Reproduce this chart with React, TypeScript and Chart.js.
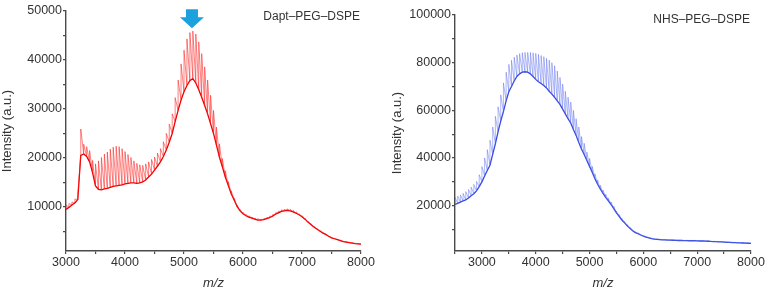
import React, { useEffect, useRef } from 'react';
import { Chart, registerables } from 'chart.js';

Chart.register(...registerables);
Chart.defaults.font.family = '"Liberation Sans", Arial, sans-serif';

// ---------- data ----------
const mzStep = 50;

// Left spectrum: Dapt-PEG-DSPE, m/z 3000..8000 every 50
const leftTitle = 'Dapt\u2013PEG\u2013DSPE';
const leftMzStart = 3000;
const leftLow = [
  9500, 9900, 10400, 10800, 11500, 20500, 20800, 20300, 19200, 17000,
  14300, 13600, 13500, 13700, 13800, 14000, 14200, 14300, 14400, 14500,
  14700, 14800, 14900, 14900, 14800, 14900, 15100, 15500, 16100, 16700,
  17500, 18300, 19200, 20300, 21600, 23200, 25000, 27400, 29700, 31800,
  33500, 34800, 35800, 36200, 35300, 33900, 32400, 30700, 29000, 27000,
  25000, 22600, 20200, 18200, 16100, 14400, 12700, 11400, 10100, 9200,
  8600, 8200, 7900, 7700, 7500, 7300, 7300, 7400, 7600, 7800,
  8100, 8500, 8800, 9100, 9200, 9300, 9200, 9000, 8700, 8400,
  8000, 7500, 6900, 6400, 5900, 5500, 5100, 4700, 4400, 4000,
  3700, 3500, 3300, 3100, 2900, 2800, 2700, 2600, 2500, 2450,
  2400,
];
const leftHigh = [
  10400, 10700, 11000, 11600, 12600, 25900, 22800, 22300, 21500, 19500,
  18800, 19400, 20100, 20800, 21200, 21800, 22200, 22400, 22300, 21900,
  21300, 20700, 20100, 19400, 18900, 18600, 18500, 18800, 19200, 19700,
  20200, 21000, 21900, 23300, 25000, 26900, 29000, 32300, 35900, 39200,
  42000, 44300, 45600, 45900, 45300, 43700, 41300, 38600, 35900, 32800,
  29700, 26300, 22900, 19900, 17400, 15200, 13300, 11800, 10400, 9500,
  8900, 8500, 8200, 7900, 7700, 7600, 7500, 7600, 7800, 8100,
  8400, 8800, 9100, 9400, 9500, 9600, 9500, 9300, 9000, 8600,
  8200, 7700, 7100, 6600, 6100, 5600, 5200, 4800, 4500, 4100,
  3800, 3600, 3400, 3200, 3000, 2900, 2800, 2700, 2600, 2500,
  2450,
];
const leftXMajor = [3000, 4000, 5000, 6000, 7000, 8000];
const leftXMinor = [3500, 4500, 5500, 6500, 7500];
const leftYMajor = [10000, 20000, 30000, 40000, 50000];
const leftYMinor = [5000, 15000, 25000, 35000, 45000];
const leftArrowMz = 5135;
const leftArrowIntensity = 46500;

// Right spectrum: NHS-PEG-DSPE, m/z 2500..8000 every 50
const rightTitle = 'NHS\u2013PEG\u2013DSPE';
const rightMzStart = 2500;
const rightLow = [
  20500, 21000, 21500, 22000, 22400, 23200, 24200, 25000, 26200, 28000,
  30000, 32500, 34800, 37000, 41500, 46000, 51000, 55500, 59500, 64000,
  67800, 70000, 72300, 74200, 75300, 76000, 76200, 76000, 75300, 74200,
  73000, 72000, 71300, 70400, 69400, 68000, 66800, 65500, 64000, 62500,
  60500, 58500, 56500, 54700, 52000, 49500, 46500, 43800, 41500, 39000,
  36500, 34000, 31300, 29000, 27000, 25200, 23500, 22000, 20500, 18800,
  17000, 15500, 14000, 12800, 11600, 10500, 9500, 8700, 8300, 7700,
  7200, 6800, 6500, 6200, 6000, 5900, 5800, 5700, 5650, 5600,
  5550, 5500, 5450, 5400, 5400, 5350, 5350, 5300, 5300, 5300,
  5250, 5200, 5200, 5150, 5100, 5000, 4950, 4900, 4850, 4800,
  4750, 4650, 4600, 4550, 4500, 4450, 4400, 4350, 4300, 4250,
  4200,
];
const rightHigh = [
  23500, 24000, 24500, 25200, 25900, 26800, 27800, 28900, 30200, 33000,
  36400, 40000, 43500, 47500, 53000, 57500, 61500, 66500, 71500, 76000,
  79300, 81000, 82300, 83200, 83800, 84200, 84300, 84300, 84300, 84100,
  83900, 83500, 83000, 82500, 81800, 81100, 80000, 78700, 76500, 73800,
  71000, 68000, 65500, 63500, 60000, 56500, 53000, 49000, 46200, 42500,
  39900, 36500, 33400, 30800, 28600, 26600, 24800, 23200, 21600, 19800,
  17800, 16300, 14700, 13400, 12100, 11000, 9900, 9100, 8600, 8000,
  7500, 7100, 6800, 6500, 6300, 6100, 6000, 5900, 5850, 5800,
  5750, 5700, 5650, 5600, 5600, 5550, 5550, 5500, 5500, 5500,
  5450, 5400, 5400, 5350, 5300, 5200, 5150, 5100, 5050, 5000,
  4950, 4850, 4800, 4750, 4700, 4650, 4550, 4500, 4450, 4400,
  4350,
];
const rightXMajor = [3000, 4000, 5000, 6000, 7000, 8000];
const rightXMinor = [2500, 3500, 4500, 5500, 6500, 7500];
const rightYMajor = [20000, 40000, 60000, 80000, 100000];
const rightYMinor = [10000, 30000, 50000, 70000, 90000];

const xTitle = 'm/z';
const yTitle = 'Intensity (a.u.)';

// ---------- helpers ----------
function baseline(start: number, lows: number[]) {
  return lows.map((y, i) => ({ x: start + i * mzStep, y }));
}
// sawtooth: rises vertically to each peak top, falls back to next valley
function sawtooth(start: number, lows: number[], highs: number[]) {
  const out: { x: number; y: number }[] = [];
  lows.forEach((lo, i) => {
    const x = start + i * mzStep;
    out.push({ x, y: lo }, { x, y: highs[i] });
  });
  return out;
}

type Cfg = {
  canvasLeft: number;
  width: number;
  xMin: number;
  xMax: number;
  yMin: number;
  yMax: number;
  xMajor: number[];
  xMinor: number[];
  yMajor: number[];
  yMinor: number[];
  mzStart: number;
  low: number[];
  high: number[];
  lineColor: string;
  spikeColor: string;
  label: string;
  padTop: number;
  padRight: number;
  yAxisWidth: number;
  yTitlePad: number;
  labelDy: number;
  arrow?: { mz: number; intensity: number; color: string };
};

const axisColor = '#4a4a4a';
const textColor = '#333333';

function SpectrumChart({ cfg }: { cfg: Cfg }) {
  const ref = useRef<HTMLCanvasElement>(null);
  useEffect(() => {
    const labelPlugin = {
      id: 'cornerLabel',
      afterDraw(chart: any) {
        const { ctx, chartArea } = chart;
        ctx.save();
        ctx.font = '12px "Liberation Sans", Arial, sans-serif';
        ctx.fillStyle = textColor;
        ctx.textAlign = 'right';
        ctx.textBaseline = 'middle';
        ctx.fillText(cfg.label, chartArea.right - 1, chartArea.top + cfg.labelDy);
        ctx.restore();
      },
    };
    const arrowPlugin = {
      id: 'peakArrow',
      afterDraw(chart: any) {
        if (!cfg.arrow) return;
        const { ctx } = chart;
        const x = chart.scales.x.getPixelForValue(cfg.arrow.mz);
        const y = chart.scales.y.getPixelForValue(cfg.arrow.intensity);
        const headW = 12, headH = 11, shaftW = 6, shaftH = 8;
        ctx.save();
        ctx.fillStyle = cfg.arrow.color;
        ctx.beginPath();
        ctx.moveTo(x, y);
        ctx.lineTo(x - headW, y - headH);
        ctx.lineTo(x - shaftW, y - headH);
        ctx.lineTo(x - shaftW, y - headH - shaftH);
        ctx.lineTo(x + shaftW, y - headH - shaftH);
        ctx.lineTo(x + shaftW, y - headH);
        ctx.lineTo(x + headW, y - headH);
        ctx.closePath();
        ctx.fill();
        ctx.restore();
      },
    };
    const ticksFrom = (major: number[], minor: number[]) => (axis: any) => {
      axis.ticks = [...major, ...minor].sort((a, b) => a - b).map((v) => ({ value: v }));
    };
    const chart = new Chart(ref.current as HTMLCanvasElement, {
      type: 'line',
      data: {
        datasets: [
          {
            data: sawtooth(cfg.mzStart, cfg.low, cfg.high) as any,
            borderColor: cfg.spikeColor,
            borderWidth: 0.9,
            pointRadius: 0,
            tension: 0,
          },
          {
            data: baseline(cfg.mzStart, cfg.low) as any,
            borderColor: cfg.lineColor,
            borderWidth: 1.3,
            pointRadius: 0,
            tension: 0,
          },
        ],
      },
      options: {
        animation: false,
        responsive: false,
        maintainAspectRatio: false,
        events: [],
        layout: { padding: { top: cfg.padTop, right: cfg.padRight, left: 0, bottom: 0 } },
        plugins: { legend: { display: false }, tooltip: { enabled: false } },
        scales: {
          x: {
            type: 'linear',
            min: cfg.xMin,
            max: cfg.xMax,
            afterBuildTicks: ticksFrom(cfg.xMajor, cfg.xMinor),
            afterFit: (s: any) => {
              s.height = 41;
            },
            ticks: {
              autoSkip: false,
              maxRotation: 0,
              padding: 1,
              color: textColor,
              font: { size: 12.5 },
              callback: (v: any) => (cfg.xMajor.includes(Number(v)) ? String(v) : ''),
            },
            grid: { display: true, drawOnChartArea: false, drawTicks: true, tickLength: 3, color: axisColor, lineWidth: 1.2 },
            border: { display: true, color: axisColor, width: 1.4 },
            title: {
              display: true,
              text: xTitle,
              color: textColor,
              font: { size: 13, style: 'italic' },
              padding: { top: 0, bottom: 1.2 },
            },
          },
          y: {
            type: 'linear',
            min: cfg.yMin,
            max: cfg.yMax,
            afterBuildTicks: ticksFrom(cfg.yMajor, cfg.yMinor),
            afterFit: (s: any) => {
              s.width = cfg.yAxisWidth;
            },
            ticks: {
              padding: 1,
              color: textColor,
              font: { size: 12.5 },
              callback: (v: any) => (cfg.yMajor.includes(Number(v)) ? String(v) : ''),
            },
            grid: { display: true, drawOnChartArea: false, drawTicks: true, tickLength: 3, color: axisColor, lineWidth: 1.2 },
            border: { display: true, color: axisColor, width: 1.4 },
            title: {
              display: true,
              text: yTitle,
              color: textColor,
              font: { size: 13 },
              padding: { top: cfg.yTitlePad, bottom: 0 },
            },
          },
        },
      },
      plugins: [labelPlugin, arrowPlugin],
    });
    return () => chart.destroy();
  }, [cfg]);
  return (
    <canvas
      ref={ref}
      width={cfg.width}
      height={292}
      style={{ position: 'absolute', left: cfg.canvasLeft, top: 0, width: cfg.width, height: 292, display: 'block' }}
    />
  );
}

const leftCfg: Cfg = {
  canvasLeft: 0,
  width: 385,
  xMin: 3000,
  xMax: 8000,
  yMin: 1000,
  yMax: 50000,
  xMajor: leftXMajor,
  xMinor: leftXMinor,
  yMajor: leftYMajor,
  yMinor: leftYMinor,
  mzStart: leftMzStart,
  low: leftLow,
  high: leftHigh,
  lineColor: 'rgb(238,0,0)',
  spikeColor: 'rgba(255,20,20,0.6)',
  label: leftTitle,
  padTop: 11,
  padRight: 24,
  yAxisWidth: 66,
  yTitlePad: 0,
  labelDy: 5.5,
  arrow: { mz: leftArrowMz, intensity: leftArrowIntensity, color: '#1ba2dd' },
};

const rightCfg: Cfg = {
  canvasLeft: 385,
  width: 386,
  xMin: 2500,
  xMax: 8000,
  yMin: 1000,
  yMax: 100000,
  xMajor: rightXMajor,
  xMinor: rightXMinor,
  yMajor: rightYMajor,
  yMinor: rightYMinor,
  mzStart: rightMzStart,
  low: rightLow,
  high: rightHigh,
  lineColor: 'rgb(55,75,225)',
  spikeColor: 'rgba(80,100,235,0.5)',
  label: rightTitle,
  padTop: 15,
  padRight: 20,
  yAxisWidth: 70,
  yTitlePad: 5,
  labelDy: 4.5,
};

export default function App() {
  return (
    <div style={{ position: 'absolute', left: 0, top: 0, width: 771, height: 292, background: '#ffffff', overflow: 'hidden' }}>
      <SpectrumChart cfg={leftCfg} />
      <SpectrumChart cfg={rightCfg} />
    </div>
  );
}
